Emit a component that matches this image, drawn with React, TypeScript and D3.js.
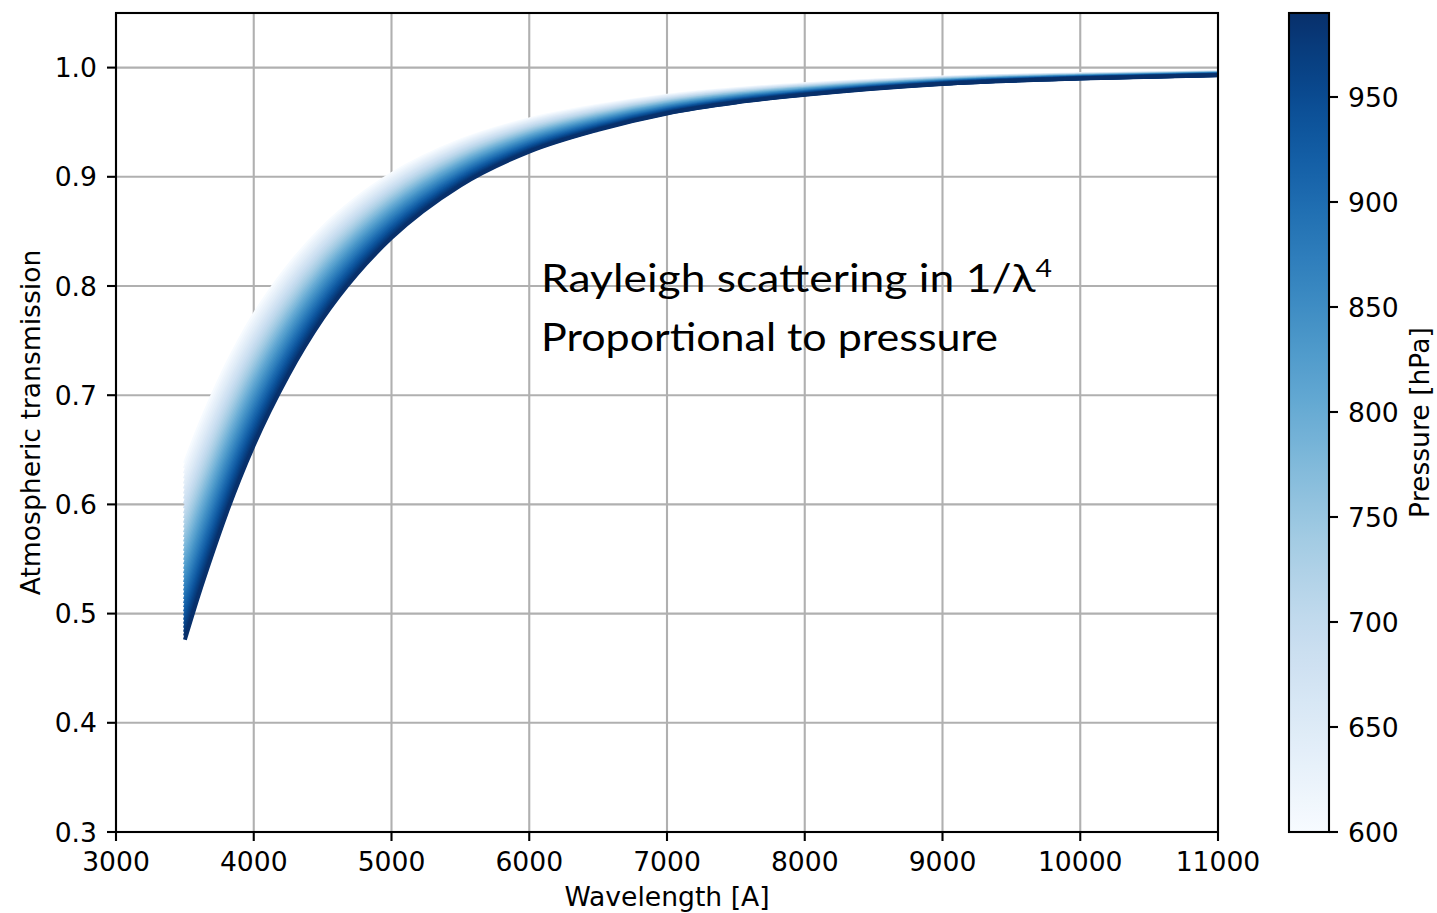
import React from "react";
import * as d3 from "d3";

// Transmission of the highest-pressure curve (990 hPa), sampled along the wavelength axis [Å]
const wavelengths = [3500, 3600, 3700, 3800, 3900, 4000, 4250, 4500, 4750, 5000, 5500, 6000, 6500, 7000, 7500, 8000, 9000, 10000, 11000];
const transmissionAtRef = [0.476, 0.517, 0.555, 0.591, 0.624, 0.654, 0.718, 0.770, 0.811, 0.844, 0.892, 0.923, 0.943, 0.958, 0.968, 0.975, 0.985, 0.990, 0.993];
const referencePressure = 990;

// Surface pressures [hPa], one curve each
const pressures = [600, 610, 620, 630, 640, 650, 660, 670, 680, 690, 700, 710, 720, 730, 740, 750, 760, 770, 780, 790, 800, 810, 820, 830, 840, 850, 860, 870, 880, 890, 900, 910, 920, 930, 940, 950, 960, 970, 980, 990];

const xTicks = [3000, 4000, 5000, 6000, 7000, 8000, 9000, 10000, 11000];
const yTicks = [0.3, 0.4, 0.5, 0.6, 0.7, 0.8, 0.9, 1.0];
const colorbarTicks = [600, 650, 700, 750, 800, 850, 900, 950];

const W = 1437;
const H = 913;
const plot = { left: 116, right: 1218, top: 13, bottom: 832 };
const cbar = { left: 1289, right: 1329, top: 13, bottom: 832 };
const FONT = "'DejaVu Sans', sans-serif";
const FS = 26.6;

export default function App() {
  const x = d3.scaleLinear().domain([3000, 11000]).range([plot.left, plot.right]);
  const y = d3.scaleLinear().domain([0.3, 1.05]).range([plot.bottom, plot.top]);
  const pMin = d3.min(pressures) as number;
  const pMax = d3.max(pressures) as number;
  const color = d3.scaleSequential(d3.interpolateBlues).domain([pMin, pMax]);
  const cy = d3.scaleLinear().domain([pMin, pMax]).range([cbar.bottom, cbar.top]);

  const line = d3
    .line<[number, number]>()
    .x((d) => x(d[0]))
    .y((d) => y(d[1]))
    .curve(d3.curveMonotoneX);

  // Optical depth scales linearly with pressure: T(P) = T_ref^(P / P_ref)
  const curves = pressures.map((p) => ({
    p,
    pts: wavelengths.map((w, i) => [w, Math.pow(transmissionAtRef[i], p / referencePressure)] as [number, number]),
  }));

  const gradStops = d3.range(0, 1.0001, 0.02);

  return (
    <svg width={W} height={H} style={{ position: "absolute", left: 0, top: 0, background: "#fff" }}>
      <defs>
        <clipPath id="plotClip">
          <rect x={plot.left} y={plot.top} width={plot.right - plot.left} height={plot.bottom - plot.top} />
        </clipPath>
        <linearGradient id="cbarGrad" x1="0" y1="1" x2="0" y2="0">
          {gradStops.map((t) => (
            <stop key={t} offset={t} stopColor={d3.interpolateBlues(t)} />
          ))}
        </linearGradient>
      </defs>

      {/* grid */}
      <g stroke="#b0b0b0" strokeWidth={2.1}>
        {xTicks.map((t) => (
          <line key={"gx" + t} x1={x(t)} x2={x(t)} y1={plot.top} y2={plot.bottom} />
        ))}
        {yTicks.map((t) => (
          <line key={"gy" + t} x1={plot.left} x2={plot.right} y1={y(t)} y2={y(t)} />
        ))}
      </g>

      {/* transmission curves */}
      <g clipPath="url(#plotClip)" fill="none" strokeWidth={3.9} strokeLinecap="butt" strokeLinejoin="round">
        {curves.map((c) => (
          <path key={c.p} d={line(c.pts) as string} stroke={color(c.p)} />
        ))}
      </g>

      {/* annotation */}
      <g fontFamily="Lato, 'Open Sans', sans-serif" fontSize={39} fill="#000">
        <text x={541} y={292} textLength={511} lengthAdjust="spacingAndGlyphs">
          Rayleigh scattering in 1/λ
          <tspan fontSize={25} dy={-15}>4</tspan>
        </text>
        <text x={541} y={351} textLength={457} lengthAdjust="spacingAndGlyphs">
          Proportional to pressure
        </text>
      </g>

      {/* spines */}
      <rect
        x={plot.left}
        y={plot.top}
        width={plot.right - plot.left}
        height={plot.bottom - plot.top}
        fill="none"
        stroke="#000"
        strokeWidth={2.1}
      />

      {/* x axis */}
      <g fontFamily={FONT} fontSize={FS} fill="#000">
        {xTicks.map((t) => (
          <g key={"xt" + t}>
            <line x1={x(t)} x2={x(t)} y1={plot.bottom} y2={plot.bottom + 9} stroke="#000" strokeWidth={2.1} />
            <text x={x(t)} y={871} textAnchor="middle">
              {t}
            </text>
          </g>
        ))}
        <text x={(plot.left + plot.right) / 2} y={906} textAnchor="middle">
          Wavelength [A]
        </text>
      </g>

      {/* y axis */}
      <g fontFamily={FONT} fontSize={FS} fill="#000">
        {yTicks.map((t) => (
          <g key={"yt" + t}>
            <line x1={plot.left - 9} x2={plot.left} y1={y(t)} y2={y(t)} stroke="#000" strokeWidth={2.1} />
            <text x={97} y={y(t)} dy="0.36em" textAnchor="end">
              {t.toFixed(1)}
            </text>
          </g>
        ))}
        <text
          transform={`translate(40,${(plot.top + plot.bottom) / 2}) rotate(-90)`}
          textAnchor="middle"
        >
          Atmospheric transmission
        </text>
      </g>

      {/* colorbar */}
      <rect
        x={cbar.left}
        y={cbar.top}
        width={cbar.right - cbar.left}
        height={cbar.bottom - cbar.top}
        fill="url(#cbarGrad)"
        stroke="#000"
        strokeWidth={2.1}
      />
      <g fontFamily={FONT} fontSize={FS} fill="#000">
        {colorbarTicks.map((t) => (
          <g key={"ct" + t}>
            <line x1={cbar.right} x2={cbar.right + 9} y1={cy(t)} y2={cy(t)} stroke="#000" strokeWidth={2.1} />
            <text x={1348} y={cy(t)} dy="0.36em" textAnchor="start">
              {t}
            </text>
          </g>
        ))}
        <text
          transform={`translate(1429,${(cbar.top + cbar.bottom) / 2}) rotate(-90)`}
          textAnchor="middle"
        >
          Pressure [hPa]
        </text>
      </g>
    </svg>
  );
}
